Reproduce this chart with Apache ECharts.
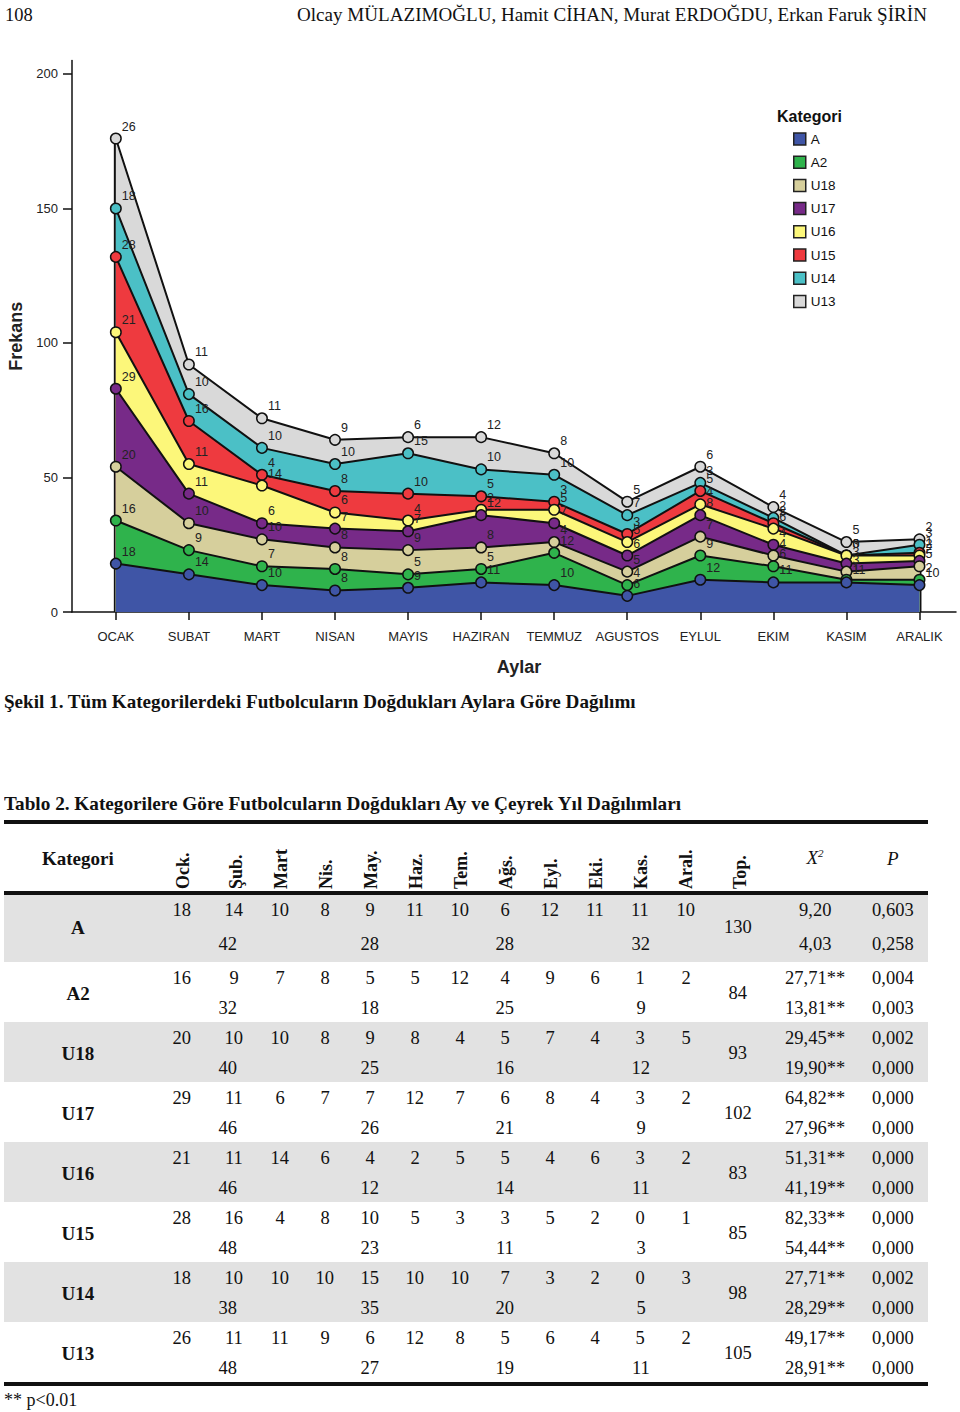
<!DOCTYPE html>
<html><head><meta charset="utf-8">
<script src="https://cdn.jsdelivr.net/npm/echarts@6/dist/echarts.min.js"></script>
<style>
html,body{margin:0;padding:0;background:#fff;}
#page{position:relative;width:960px;height:1412px;overflow:hidden;font-family:'Liberation Serif','Times New Roman',serif;color:#111;}
#chart{position:absolute;left:0;top:0;width:960px;height:720px;}
.t{position:absolute;white-space:nowrap;line-height:1;}
.bar{position:absolute;background:#111;}
.shade{position:absolute;background:#e2e2e2;}
</style></head><body><div id="page"><div id="chart"></div></div>
<script>
// ---------- data ----------
const months = ['OCAK','SUBAT','MART','NISAN','MAYIS','HAZIRAN','TEMMUZ','AGUSTOS','EYLUL','EKIM','KASIM','ARALIK'];
const categories = ['A','A2','U18','U17','U16','U15','U14','U13'];
const A   = [18,14,10,8,9,11,10,6,12,11,11,10];
const A2  = [16,9,7,8,5,5,12,4,9,6,1,2];
const U18 = [20,10,10,8,9,8,4,5,7,4,3,5];
const U17 = [29,11,6,7,7,12,7,6,8,4,3,2];
const U16 = [21,11,14,6,4,2,5,5,4,6,3,2];
const U15 = [28,16,4,8,10,5,3,3,5,2,0,1];
const U14 = [18,10,10,10,15,10,10,7,3,2,0,3];
const U13 = [26,11,11,9,6,12,8,5,6,4,5,2];
const yTicks = [0,50,100,150,200];

const qA=[42,28,28,32], qA2=[32,18,25,9], qU18=[40,25,16,12], qU17=[46,26,21,9];
const qU16=[46,12,14,11], qU15=[48,23,11,3], qU14=[38,35,20,5], qU13=[48,27,19,11];
const totals = [130,84,93,102,83,85,98,105];
const chiMonth = ['9,20','27,71**','29,45**','64,82**','51,31**','82,33**','27,71**','49,17**'];
const chiQuarter = ['4,03','13,81**','19,90**','27,96**','41,19**','54,44**','28,29**','28,91**'];
const pMonth = ['0,603','0,004','0,002','0,000','0,000','0,000','0,002','0,000'];
const pQuarter = ['0,258','0,003','0,000','0,000','0,000','0,000','0,000','0,000'];
const tableHeads = ['Ock.','Şub.','Mart','Nis.','May.','Haz.','Tem.','Ağs.','Eyl.','Eki.','Kas.','Aral.','Top.'];

// ---------- chart ----------
const seriesValues = [A,A2,U18,U17,U16,U15,U14,U13];
const quarters = [qA,qA2,qU18,qU17,qU16,qU15,qU14,qU13];
const colors = ['#3f55a6','#2fb34c','#d6cf9c','#772a88','#fcf77a','#ee3a3f','#4bc0c6','#d9d9d9'];
const monthIdx = months.map((m,i)=>i);
const last = months.length-1;
const SANS = 'Liberation Sans, Arial, sans-serif';

// cumulative (stacked) tops, A at the bottom
const cum = [];
seriesValues.forEach((arr,i)=>{
  cum.push(arr.map((v,j)=>(i? cum[i-1][j] : 0) + v));
});
const stackTotals = cum[cum.length-1];

const series = [];
// outer vertical edges (under the areas)
[0,last].forEach(j=>{
  series.push({type:'line', data:[[j,0],[j,stackTotals[j]]], symbol:'none', silent:true, z:1,
    lineStyle:{color:'#111',width:4}, emphasis:{disabled:true}});
});
categories.forEach((name,i)=>{
  series.push({
    name, type:'line', z:20-i,
    data: seriesValues[i].map((v,j)=>[j,cum[i][j],v]),
    symbol:'circle', symbolSize:10.5,
    lineStyle:{color:'#111',width:2},
    itemStyle:{color:colors[i], borderColor:'#111', borderWidth:1.5},
    areaStyle:{color:colors[i], opacity:1, origin:'start'},
    label:{show:true, position:'right', distance:0, offset:[0,-12], fontSize:12.5, color:'#222',
      fontFamily:SANS, formatter:p=>String(p.value[2])},
    emphasis:{disabled:true}
  });
});

const chart = echarts.init(document.getElementById('chart'), null, {renderer:'svg'});
chart.setOption({
  animation:false,
  color: colors,
  title:{text:'Kategori', left:777, top:108, padding:0,
    textStyle:{fontSize:16, fontWeight:'bold', fontFamily:SANS, color:'#111'}},
  legend:{orient:'vertical', left:788, top:127, icon:'rect', itemWidth:12, itemHeight:12, itemGap:9.2,
    data:categories, selectedMode:false,
    itemStyle:{borderColor:'#222', borderWidth:1.5},
    textStyle:{fontSize:13.5, fontFamily:SANS, color:'#111'}},
  grid:{left:72, right:4, top:60.5, bottom:108, containLabel:false, outerBoundsMode:'none'},
  xAxis:{type:'value', min:-0.6, max:11.5,
    name:'Aylar', nameLocation:'middle', nameGap:46,
    nameTextStyle:{fontSize:18, fontWeight:'bold', fontFamily:SANS, color:'#222', padding:[0,0,0,10]},
    axisLine:{show:true, onZero:false, lineStyle:{color:'#111', width:1.5}},
    axisTick:{show:true, customValues:monthIdx, length:8, lineStyle:{color:'#111', width:1.5}},
    axisLabel:{customValues:monthIdx, formatter:v=>months[Math.round(v)], margin:18, fontSize:13, fontFamily:SANS, color:'#222'},
    splitLine:{show:false}},
  yAxis:{type:'value', min:0, max:205,
    name:'Frekans', nameLocation:'middle', nameGap:45,
    nameTextStyle:{fontSize:18, fontWeight:'bold', fontFamily:SANS, color:'#222'},
    axisLine:{show:true, onZero:false, lineStyle:{color:'#111', width:1.5}},
    axisTick:{show:true, customValues:yTicks, length:9, lineStyle:{color:'#111', width:1.5}},
    axisLabel:{customValues:yTicks, margin:14, fontSize:13, fontFamily:SANS, color:'#222'},
    splitLine:{show:false}},
  series
});

// ---------- page text & table ----------
const page = document.getElementById('page');
function txt(s, x, cy, o={}){
  const d=document.createElement('div'); d.className='t';
  if(o.html) d.innerHTML=s; else d.textContent=s;
  d.style.fontSize=(o.size||18.5)+'px';
  if(o.bold) d.style.fontWeight='bold';
  if(o.italic) d.style.fontStyle='italic';
  page.appendChild(d);
  const w=d.offsetWidth, h=d.offsetHeight;
  const sx = o.width ? o.width/w : 1;
  const ww = w*sx;
  const left = o.align==='left' ? x : (o.align==='right' ? x-ww : x-ww/2);
  d.style.left=left+'px'; d.style.top=(cy-h/2)+'px';
  if(sx!==1){ d.style.transformOrigin='0 50%'; d.style.transform='scaleX('+sx+')'; }
  return d;
}
function box(cls,l,t,w,h){const d=document.createElement('div');d.className=cls;
  d.style.left=l+'px';d.style.top=t+'px';d.style.width=w+'px';d.style.height=h+'px';page.appendChild(d);}
function vtxt(s, cx, bottom, o={}){
  const d=document.createElement('div'); d.className='t'; d.textContent=s;
  d.style.fontSize=(o.size||18)+'px'; d.style.fontWeight='bold'; d.style.lineHeight='20px';
  d.style.left=(cx-10)+'px'; d.style.top=bottom+'px';
  d.style.transformOrigin='0 0'; d.style.transform='rotate(-90deg)';
  page.appendChild(d);
}

// header
txt('108', 5, 15, {align:'left', size:18.5});
txt('Olcay MÜLAZIMOĞLU, Hamit CİHAN, Murat ERDOĞDU, Erkan Faruk ŞİRİN', 297, 15, {align:'left', size:18.5, width:630});
// captions
txt('Şekil 1. Tüm Kategorilerdeki Futbolcuların Doğdukları Aylara Göre Dağılımı', 4, 701, {align:'left', size:19, bold:true, width:632});
txt('Tablo 2. Kategorilere Göre Futbolcuların Doğdukları Ay ve Çeyrek Yıl Dağılımları', 4, 803, {align:'left', size:19, bold:true, width:677});

// table geometry
const tLeft=4, tWidth=924;
const rowTops = [895,962,1022,1082,1142,1202,1262,1322];
const rowHeights = [67,60,60,60,60,60,60,60];
const y1 = [910,978,1038,1098,1158,1218,1278,1338];
const y2 = [944,1008,1068,1128,1188,1248,1308,1368];
const monthX = [182,234,280,325,370,415,460,505,550,595,640,686];
const quarterX = [228,370,505,641];
const headX = [183,236,281,326,371,416,461,506,551,596,641,686,740];
const topX = 738, chiX = 815, pX = 893;

rowTops.forEach((t,i)=>{ if(i%2===0) box('shade', tLeft, t, tWidth, rowHeights[i]); });
box('bar', tLeft, 820, tWidth, 3.5);
box('bar', tLeft, 891, tWidth, 3.5);
box('bar', tLeft, 1382, tWidth, 4);

txt('Kategori', 78, 858, {size:19, bold:true});
tableHeads.forEach((h,i)=>vtxt(h, headX[i], 889));
txt('X<sup style="font-size:11px;vertical-align:7px">2</sup>', chiX, 857, {size:19, italic:true, html:true});
txt('P', pX, 858, {size:19, italic:true});

categories.forEach((c,i)=>{
  const mid=(y1[i]+y2[i])/2;
  txt(c, 78, mid, {size:19, bold:true});
  seriesValues[i].forEach((v,j)=>txt(String(v), monthX[j], y1[i]));
  quarters[i].forEach((v,j)=>txt(String(v), quarterX[j], y2[i]));
  txt(String(totals[i]), topX, mid);
  txt(chiMonth[i], chiX, y1[i]);
  txt(chiQuarter[i], chiX, y2[i]);
  txt(pMonth[i], pX, y1[i]);
  txt(pQuarter[i], pX, y2[i]);
});
txt('** p&lt;0.01', 4, 1400, {align:'left', size:18, html:true});
</script></body></html>
